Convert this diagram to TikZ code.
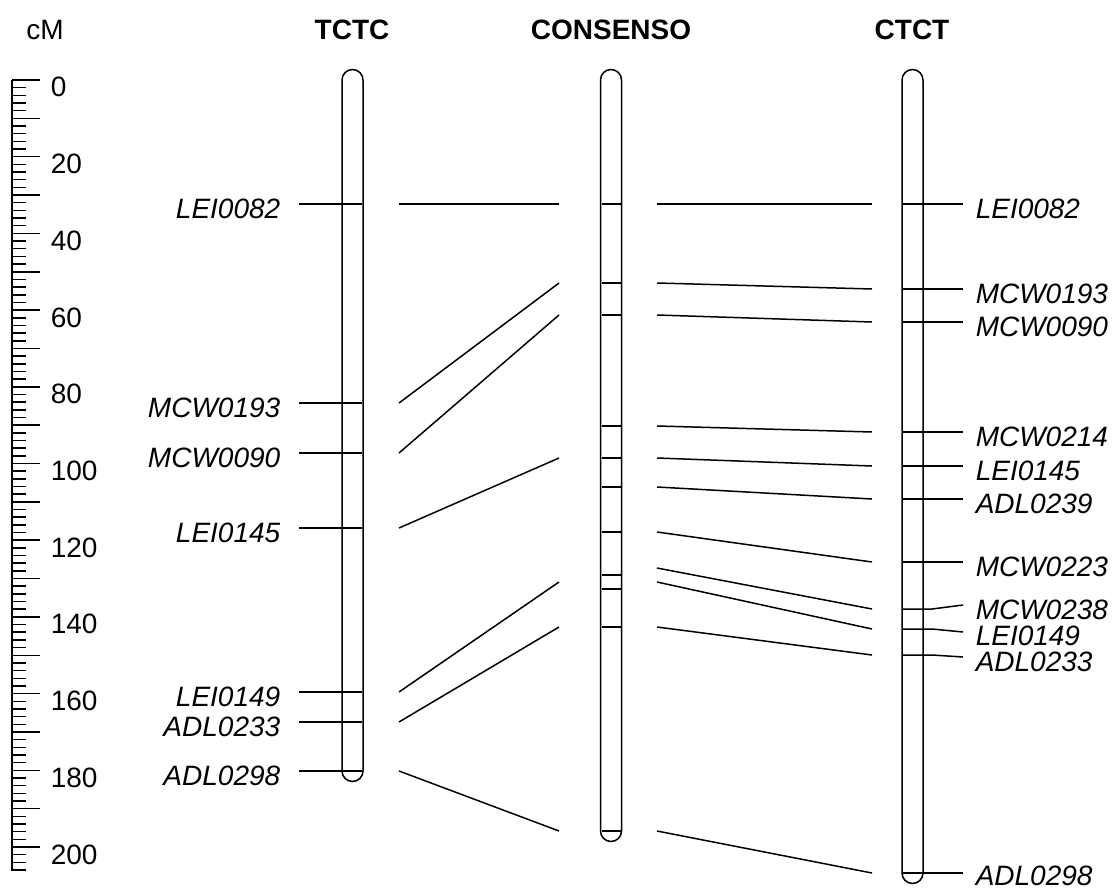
\documentclass[tikz,border=0pt]{standalone}
\usepackage{fontspec}
\setmainfont{Liberation Sans}

\begin{document}
\begin{tikzpicture}[x=1pt,y=-1pt,line width=1.5pt,font=\fontsize{28}{33}\selectfont]
	\useasboundingbox (0,0) rectangle (1113,888);
	\tikzset{mk/.style={inner sep=0pt,font=\fontsize{28}{33}\selectfont\itshape},
		hd/.style={inner sep=0pt,font=\fontsize{28}{33}\selectfont\bfseries},
		bar/.style={rounded corners=10.5pt}}
	% heads
	\node[inner sep=0pt] (cm) at (45,30) {cM};
	\node[hd] (tctc) at (352,30) {TCTC};
	\node[hd] (cons) at (611,30) {CONSENSO};
	\node[hd] (ctct) at (912,30) {CTCT};
	% scale in cM
	\draw (12,80) -- (12,871);
	\foreach \c in {0,2,...,206} \draw (12,{80+3.835*\c}) -- (26,{80+3.835*\c});
	\foreach \c in {0,10,...,200} \draw (12,{80+3.835*\c}) -- (40,{80+3.835*\c});
	\foreach \c in {0,20,...,200} \node[inner sep=0pt,anchor=base west] (r\c) at (50,{80+3.835*\c+17}) {\c};
	% bars
	\draw[bar] (342,69.5) rectangle (363,781.5);
	\draw[bar] (600.5,69.5) rectangle (621.5,841.5);
	\draw[bar] (902,69.5) rectangle (923,883.5);
	% TCTC
	\node[mk,anchor=base east] (A1) at (281,218) {LEI0082};
	\node[mk,anchor=base east] (A2) at (281,417) {MCW0193};
	\node[mk,anchor=base east] (A3) at (281,467) {MCW0090};
	\node[mk,anchor=base east] (A4) at (281,542) {LEI0145};
	\node[mk,anchor=base east] (A5) at (281,706) {LEI0149};
	\node[mk,anchor=base east] (A6) at (281,736) {ADL0233};
	\node[mk,anchor=base east] (A7) at (281,785) {ADL0298};
	\draw (299,204) -- (362,204);
	\draw (299,403) -- (362,403);
	\draw (299,453) -- (362,453);
	\draw (299,528) -- (362,528);
	\draw (299,692) -- (362,692);
	\draw (299,722) -- (362,722);
	\draw (299,771) -- (362,771);
	\coordinate (a1) at (399,204);
	\coordinate (a2) at (399,403);
	\coordinate (a3) at (399,453);
	\coordinate (a4) at (399,528);
	\coordinate (a5) at (399,692);
	\coordinate (a6) at (399,722);
	\coordinate (a7) at (399,771);
	% CONSENSO
	\foreach \y in {204,283,315,426,458,487,532,575,589,627,831}
		\draw (601.5,\y) -- (620.5,\y);
	\coordinate (b1) at (559,204);
	\coordinate (b2) at (559,283);
	\coordinate (b3) at (559,315);
	\coordinate (b4) at (559,458);
	\coordinate (b5) at (559,582);
	\coordinate (b6) at (559,627);
	\coordinate (b7) at (559,831);
	\coordinate (c1) at (657,204);
	\coordinate (c2) at (657,283);
	\coordinate (c3) at (657,315);
	\coordinate (c4) at (657,426);
	\coordinate (c5) at (657,458);
	\coordinate (c6) at (657,487);
	\coordinate (c7) at (657,532);
	\coordinate (c8) at (657,568);
	\coordinate (c9) at (657,582);
	\coordinate (c10) at (657,627);
	\coordinate (c11) at (657,831);
	% CTCT
	\coordinate (d1) at (872,204);
	\coordinate (d2) at (872,289);
	\coordinate (d3) at (872,322);
	\coordinate (d4) at (872,432);
	\coordinate (d5) at (872,466);
	\coordinate (d6) at (872,499);
	\coordinate (d7) at (872,562);
	\coordinate (d8) at (872,609);
	\coordinate (d9) at (872,629);
	\coordinate (d10) at (872,655);
	\coordinate (d11) at (872,873);
	\node[mk,anchor=base west] (E1) at (975,218) {LEI0082};
	\node[mk,anchor=base west] (E2) at (975,303) {MCW0193};
	\node[mk,anchor=base west] (E3) at (975,336) {MCW0090};
	\node[mk,anchor=base west] (E4) at (975,446) {MCW0214};
	\node[mk,anchor=base west] (E5) at (975,480) {LEI0145};
	\node[mk,anchor=base west] (E6) at (975,513) {ADL0239};
	\node[mk,anchor=base west] (E7) at (975,576) {MCW0223};
	\node[mk,anchor=base west] (E8) at (975,619) {MCW0238};
	\node[mk,anchor=base west] (E9) at (975,645) {LEI0149};
	\node[mk,anchor=base west] (E10) at (975,671) {ADL0233};
	\node[mk,anchor=base west] (E11) at (975,885) {ADL0298};
	\draw (902,204) -- (963,204);
	\draw (902,289) -- (963,289);
	\draw (902,322) -- (963,322);
	\draw (902,432) -- (963,432);
	\draw (902,466) -- (963,466);
	\draw (902,499) -- (963,499);
	\draw (902,562) -- (963,562);
	\draw (902,609) -- (932,609) -- (963,605);
	\draw (902,629) -- (932,629) -- (963,632);
	\draw (902,655) -- (932,655) -- (963,657);
	\draw (902,873) -- (963,873);
	% links
	\foreach \i in {1,...,7} \draw (a\i) -- (b\i);
	\foreach \i in {1,...,11} \draw (c\i) -- (d\i);
\end{tikzpicture}
\end{document}
